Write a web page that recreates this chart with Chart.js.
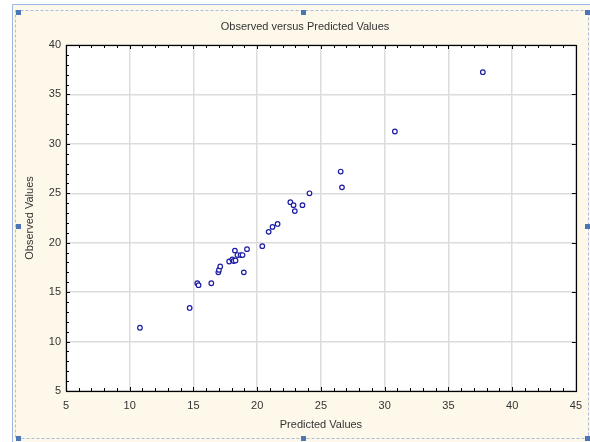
<!DOCTYPE html>
<html>
<head>
<meta charset="utf-8">
<script src="https://cdn.jsdelivr.net/npm/chart.js@4/dist/chart.umd.min.js"></script>
<style>
  html, body { margin: 0; padding: 0; background: #fff; }
  canvas { display: block; }
</style>
</head>
<body>
<canvas id="ovp-chart" width="590" height="442"></canvas>
<script>
// values
const predicted = [10.8, 14.7, 15.3, 15.4, 16.4, 16.95, 17.0, 17.1, 17.8, 18.05, 18.15, 18.3, 18.25, 18.45, 18.7, 18.85,
                   18.95, 19.2, 20.4, 20.9, 21.2, 21.6, 22.6, 22.85, 22.95, 23.55, 24.1, 26.55, 26.65, 30.8, 37.7];
const observed  = [11.4, 13.4, 15.9, 15.7, 15.9, 17.0, 17.25, 17.6, 18.1, 18.3, 18.15, 18.2, 19.2, 18.75, 18.75, 18.75,
                   17.0, 19.35, 19.65, 21.1, 21.6, 21.9, 24.1, 23.8, 23.2, 23.8, 25.0, 27.2, 25.6, 31.25, 37.25];
const xTicks = [5, 10, 15, 20, 25, 30, 35, 40, 45];
const yTicks = [5, 10, 15, 20, 25, 30, 35, 40];

const chartTitle = 'Observed versus Predicted Values';
const xTitle = 'Predicted Values';
const yTitle = 'Observed Values';

const FONT = 'Liberation Sans, Arial, sans-serif';
const CREAM = '#fdf8ea';

// page frame, white plot area, black box with little inside ticks, selection handles
const framePlugin = {
    id: 'frame',
    beforeDraw(chart) {
        const ctx = chart.ctx;
        const a = chart.chartArea;
        ctx.save();
        ctx.fillStyle = '#fff';
        ctx.fillRect(0, 0, chart.width, chart.height);
        ctx.fillStyle = CREAM;
        ctx.fillRect(12, 4, chart.width - 12, chart.height - 4);
        ctx.strokeStyle = '#9db8e6';
        ctx.lineWidth = 1;
        ctx.beginPath();
        ctx.moveTo(12.5, chart.height);
        ctx.lineTo(12.5, 4.5);
        ctx.lineTo(chart.width, 4.5);
        ctx.stroke();
        ctx.setLineDash([3, 2]);
        ctx.strokeStyle = '#a9bedf';
        ctx.strokeRect(15.5, 10.5, 573, 428);
        ctx.setLineDash([]);
        ctx.fillStyle = '#fff';
        ctx.fillRect(a.left, a.top, a.right - a.left, a.bottom - a.top);
        ctx.restore();
    },
    beforeDatasetsDraw(chart) {
        const ctx = chart.ctx;
        const a = chart.chartArea;
        const xs = chart.scales.x;
        const ys = chart.scales.y;
        ctx.save();
        ctx.strokeStyle = '#000';
        ctx.lineWidth = 1;
        ctx.beginPath();
        for (let v = 5; v <= 45; v++) {
            const px = Math.round(xs.getPixelForValue(v)) + 0.5;
            const len = v % 5 === 0 ? 4 : 3;
            ctx.moveTo(px, a.bottom); ctx.lineTo(px, a.bottom - len);
            ctx.moveTo(px, a.top); ctx.lineTo(px, a.top + len);
        }
        for (let v = 5; v <= 40; v++) {
            const py = Math.round(ys.getPixelForValue(v)) + 0.5;
            ctx.moveTo(a.left, py); ctx.lineTo(a.left + (v % 5 === 0 ? 4 : 3), py);
            if (v % 5 === 0) { ctx.moveTo(a.right, py); ctx.lineTo(a.right - 4, py); }
        }
        ctx.stroke();
        ctx.lineWidth = 1.2;
        ctx.strokeRect(Math.round(a.left) + 0.5, Math.round(a.top) + 0.5,
                       Math.round(a.right - a.left), Math.round(a.bottom - a.top));
        ctx.restore();
    },
    afterDraw(chart) {
        const ctx = chart.ctx;
        ctx.save();
        ctx.fillStyle = '#333';
        ctx.font = '11px ' + FONT;
        ctx.textAlign = 'center';
        ctx.textBaseline = 'middle';
        ctx.fillText(chartTitle, 305, 27);
        ctx.fillStyle = '#4a76b4';
        const hx = [16, 301, 585];
        const hy = [10, 224, 436];
        hx.forEach(x => hy.forEach(y => {
            if (x === 301 && y === 224) return;
            ctx.fillRect(x, y, 5, 5);
        }));
        ctx.restore();
    }
};

const ctx = document.getElementById('ovp-chart').getContext('2d');

new Chart(ctx, {
    type: 'scatter',
    data: {
        datasets: [
            {
                label: 'Observed',
                data: predicted.map((p, i) => ({ x: p, y: observed[i] })),
                borderColor: '#1c1ca6',
                backgroundColor: '#fff',
                borderWidth: 1.2,
                pointRadius: 2.3,
                pointHoverRadius: 2.3,
            },
        ],
    },
    options: {
        responsive: false,
        animation: false,
        devicePixelRatio: 1,
        layout: { padding: { left: 14, right: 12, top: 45, bottom: 10 } },
        plugins: {
            legend: { display: false },
            title: { display: false },
            tooltip: { enabled: false },
        },
        scales: {
            x: {
                type: 'linear',
                min: 5,
                max: 45,
                afterBuildTicks: (scale) => { scale.ticks = xTicks.map(v => ({ value: v })); },
                afterFit: (scale) => { scale.height = 41; },
                grid: { color: '#dcdcdc', lineWidth: 1.5, drawTicks: false },
                border: { display: false },
                ticks: { padding: 8, color: '#333', font: { family: FONT, size: 11 }, maxRotation: 0 },
                title: { display: true, text: xTitle, color: '#333', font: { family: FONT, size: 11 }, padding: { top: 0, bottom: 0 } },
            },
            y: {
                type: 'linear',
                min: 5,
                max: 40,
                afterBuildTicks: (scale) => { scale.ticks = yTicks.map(v => ({ value: v })); },
                afterFit: (scale) => { scale.width = 52; },
                grid: { color: '#dcdcdc', lineWidth: 1.5, drawTicks: false },
                border: { display: false },
                ticks: { padding: 5, color: '#333', font: { family: FONT, size: 11 } },
                title: { display: true, text: yTitle, color: '#333', font: { family: FONT, size: 11 }, padding: { top: 9.4, bottom: 0 } },
            },
        },
    },
    plugins: [framePlugin],
});
</script>
</body>
</html>
